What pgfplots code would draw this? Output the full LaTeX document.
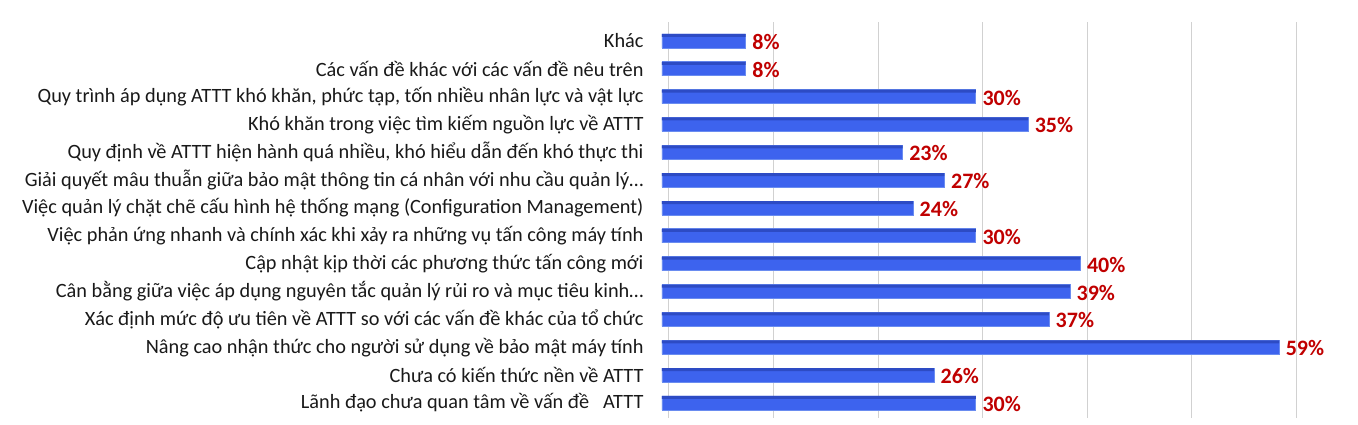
\documentclass[border=0pt]{standalone}
\usepackage{pgfplots}
\pgfplotsset{compat=1.18}
\usepackage{fontspec}
\setmainfont{Carlito}
\definecolor{barblue}{HTML}{3D63EE}
\definecolor{baredge}{HTML}{6A8CF0}
\definecolor{bartop}{HTML}{2D4BC4}
\definecolor{lblred}{HTML}{C00000}
\begin{document}
\begin{tikzpicture}[x=1pt,y=1pt]
\useasboundingbox (0,0) rectangle (1358,425);
\begin{axis}[at={(662pt,7pt)}, anchor=south west, scale only axis,
  width=638pt, height=396pt,
  xmin=0, xmax=61, ymin=-0.54, ymax=13.68,
  xbar, bar width=14pt,
  axis line style={draw=none},
  xtick={0,10,...,60}, xticklabel={\empty},
  xmajorgrids, major grid style={black!18, line width=1pt, xshift=7pt},
  ytick={0,...,13},
  yticklabels={
    {Lãnh đạo chưa quan tâm về vấn đề\ \ \ ATTT},
    {Chưa có kiến thức nền về ATTT\ },
    {Nâng cao nhận thức cho người sử dụng về bảo mật máy tính},
    {Xác định mức độ ưu tiên về ATTT so với các vấn đề khác của tổ chức},
    {Cân bằng giữa việc áp dụng nguyên tắc quản lý rủi ro và mục tiêu kinh…},
    {Cập nhật kịp thời các phương thức tấn công mới},
    {Việc phản ứng nhanh và chính xác khi xảy ra những vụ tấn công máy tính},
    {Việc quản lý chặt chẽ cấu hình hệ thống mạng (Configuration Management)},
    {Giải quyết mâu thuẫn giữa bảo mật thông tin cá nhân với nhu cầu quản lý…},
    {Quy định về ATTT hiện hành quá nhiều, khó hiểu dẫn đến khó thực thi},
    {Khó khăn trong việc tìm kiếm nguồn lực về ATTT},
    {Quy trình áp dụng ATTT khó khăn, phức tạp, tốn nhiều nhân lực và vật lực},
    {Các vấn đề khác với các vấn đề nêu trên},
    {Khác}},
  major tick length=0pt,
  yticklabel style={font=\fontsize{20.3}{24}\selectfont, text=black!90, xshift=-15pt},
  /pgf/number format/assume math mode=true,
]
\addplot[fill=barblue, draw=baredge, line width=0.8pt, bar shift=0pt,
  point meta=x,
  nodes near coords={\pgfmathprintnumber{\pgfplotspointmeta}\%},
  nodes near coords style={font=\fontsize{22}{26}\selectfont\bfseries, text=lblred, anchor=west, xshift=3pt, yshift=-1pt}]
  coordinates {
  (30,0) (26,1) (59,2) (37,3) (39,4) (40,5) (30,6) (24,7) (27,8) (23,9) (35,10) (30,11) (8,12) (8,13)
};
\addplot[fill=bartop, draw=none, bar width=3pt, bar shift=5.5pt]
  coordinates {
  (30,0) (26,1) (59,2) (37,3) (39,4) (40,5) (30,6) (24,7) (27,8) (23,9) (35,10) (30,11) (8,12) (8,13)
};
\end{axis}
\end{tikzpicture}
\end{document}
